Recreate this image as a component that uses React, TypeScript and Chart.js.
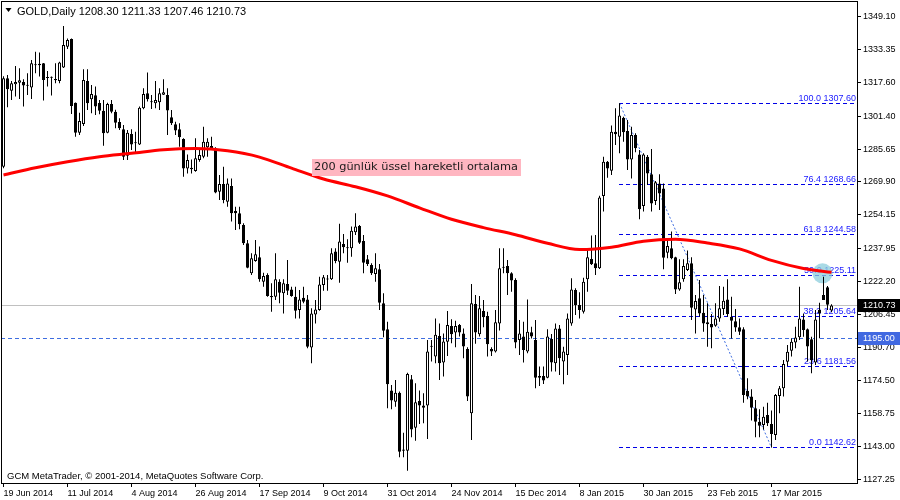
import { useEffect, useRef } from 'react';
import { Chart, registerables } from 'chart.js';

Chart.register(...registerables);

// ---- Daily candles (index 0 = 19 Jun 2014) ----
const OPEN = [
  1277.2, 1319.6, 1313.6, 1316.7, 1317.5, 1317.8, 1316.2, 1315.2, 1325.8, 1326.6,
  1326.8, 1319.9, 1320.0, 1319.2, 1318.3, 1324.7, 1334.7, 1338.4, 1307.9, 1293.5,
  1297.7, 1318.3, 1309.5, 1311.4, 1307.7, 1304.0, 1293.5, 1307.3, 1303.6, 1298.6,
  1295.1, 1282.5, 1292.9, 1288.6, 1287.9, 1305.2, 1312.4, 1308.1, 1307.6, 1308.1,
  1311.7, 1311.6, 1300.9, 1297.5, 1295.1, 1290.5, 1276.4, 1276.7, 1275.1, 1280.4,
  1282.0, 1286.5, 1287.1, 1286.0, 1265.2, 1268.9, 1260.4, 1268.0, 1256.0, 1254.9,
  1249.3, 1240.5, 1226.1, 1232.0, 1233.8, 1222.1, 1225.3, 1215.2, 1214.9, 1222.1,
  1216.5, 1221.0, 1218.4, 1214.9, 1208.5, 1214.4, 1213.6, 1190.6, 1206.4, 1208.5,
  1220.5, 1223.1, 1223.2, 1236.5, 1231.7, 1240.2, 1238.4, 1238.1, 1245.8, 1248.8,
  1241.6, 1232.8, 1230.1, 1225.8, 1228.0, 1211.7, 1199.3, 1169.9, 1164.6, 1168.9,
  1141.7, 1141.1, 1175.3, 1152.1, 1164.9, 1162.7, 1162.7, 1190.9, 1186.2, 1196.1,
  1183.3, 1193.3, 1200.9, 1197.7, 1201.3, 1197.3, 1189.8, 1159.0, 1211.4, 1196.9,
  1208.1, 1205.7, 1189.8, 1188.6, 1202.1, 1228.8, 1229.6, 1226.1, 1222.9, 1194.2,
  1195.8, 1188.6, 1197.8, 1194.2, 1176.9, 1176.9, 1176.1, 1194.6, 1183.0, 1199.7,
  1183.8, 1187.0, 1202.1, 1218.1, 1210.9, 1207.7, 1223.2, 1233.0, 1230.9, 1228.5,
  1263.2, 1279.6, 1275.3, 1294.0, 1291.6, 1300.7, 1294.3, 1280.7, 1292.4, 1283.1,
  1258.4, 1282.0, 1273.6, 1260.8, 1269.2, 1266.8, 1236.0, 1238.1, 1233.8, 1218.4,
  1223.2, 1227.7, 1230.9, 1208.8, 1214.1, 1207.2, 1202.6, 1201.8, 1201.0, 1204.5,
  1209.0, 1213.6, 1205.3, 1203.1, 1200.2, 1199.3, 1169.7, 1167.0, 1161.4, 1155.0,
  1153.4, 1158.2, 1153.9, 1148.6, 1167.3, 1171.0, 1183.7, 1189.0, 1192.9, 1195.4,
  1204.0, 1199.3, 1194.5, 1183.3, 1208.5, 1215.7, 1219.4, 1208.30,
];
const HIGH = [
  1320.5, 1321.2, 1318.3, 1325.5, 1324.4, 1319.1, 1322.0, 1328.3, 1332.3, 1331.9,
  1326.9, 1323.1, 1320.4, 1326.8, 1327.5, 1344.6, 1338.7, 1338.7, 1308.0, 1303.1,
  1323.9, 1323.9, 1316.4, 1315.6, 1309.2, 1309.2, 1307.9, 1309.2, 1304.5, 1300.4,
  1297.2, 1294.8, 1295.1, 1294.0, 1306.0, 1314.8, 1322.4, 1311.6, 1318.3, 1314.8,
  1319.1, 1314.8, 1304.4, 1298.8, 1298.0, 1290.8, 1283.1, 1280.7, 1290.8, 1285.5,
  1296.4, 1290.8, 1291.6, 1286.5, 1273.2, 1277.2, 1271.6, 1271.6, 1258.0, 1258.0,
  1250.1, 1242.1, 1235.7, 1242.1, 1238.9, 1226.4, 1226.1, 1221.3, 1235.7, 1223.2,
  1223.2, 1232.5, 1219.7, 1219.7, 1218.1, 1219.7, 1215.7, 1209.3, 1213.3, 1224.5,
  1225.3, 1225.3, 1238.1, 1238.1, 1249.8, 1244.9, 1242.4, 1248.5, 1254.9, 1249.3,
  1244.5, 1234.9, 1230.9, 1235.7, 1230.6, 1216.5, 1202.9, 1172.6, 1175.0, 1169.4,
  1149.7, 1178.5, 1177.4, 1173.4, 1169.9, 1168.6, 1194.2, 1194.2, 1204.5, 1202.1,
  1197.3, 1208.1, 1204.1, 1203.4, 1201.8, 1199.7, 1190.7, 1221.0, 1215.7, 1215.2,
  1213.3, 1207.7, 1190.7, 1208.5, 1238.1, 1238.1, 1232.5, 1226.6, 1223.7, 1203.7,
  1202.9, 1213.6, 1200.5, 1203.7, 1181.4, 1181.4, 1199.3, 1197.0, 1202.1, 1201.3,
  1190.9, 1206.9, 1223.7, 1218.9, 1217.0, 1224.0, 1237.3, 1244.2, 1244.5, 1263.3,
  1282.0, 1279.9, 1296.9, 1305.2, 1307.6, 1301.2, 1299.6, 1296.4, 1293.2, 1285.2,
  1283.6, 1282.8, 1285.7, 1270.4, 1273.6, 1269.2, 1242.1, 1246.1, 1234.1, 1232.8,
  1232.8, 1237.0, 1233.8, 1215.7, 1222.9, 1215.7, 1211.7, 1206.6, 1211.7, 1220.0,
  1219.7, 1223.2, 1214.9, 1209.0, 1204.5, 1200.2, 1175.8, 1170.5, 1165.4, 1160.9,
  1162.2, 1164.1, 1160.3, 1168.2, 1172.1, 1184.6, 1191.7, 1195.0, 1200.5, 1219.7,
  1206.9, 1199.7, 1195.7, 1208.5, 1212.0, 1224.5, 1220.0, 1211.33,
];
const LOW = [
  1276.5, 1305.7, 1309.2, 1310.8, 1309.7, 1306.0, 1311.6, 1309.7, 1322.0, 1320.4,
  1308.9, 1315.6, 1311.3, 1317.2, 1317.2, 1324.5, 1333.6, 1302.5, 1291.6, 1292.4,
  1296.7, 1304.4, 1302.8, 1302.0, 1302.3, 1287.3, 1293.2, 1302.8, 1295.6, 1294.8,
  1280.4, 1280.4, 1285.2, 1283.6, 1287.6, 1304.7, 1308.4, 1304.9, 1305.2, 1304.4,
  1311.6, 1292.4, 1297.2, 1292.4, 1286.8, 1272.4, 1274.0, 1274.0, 1274.8, 1279.6,
  1281.2, 1282.0, 1285.2, 1264.5, 1261.3, 1259.7, 1258.0, 1250.9, 1246.9, 1247.2,
  1239.7, 1228.5, 1225.3, 1231.7, 1222.1, 1219.7, 1214.9, 1207.7, 1213.3, 1211.7,
  1206.9, 1215.7, 1214.9, 1204.5, 1204.5, 1211.7, 1190.2, 1183.0, 1202.1, 1208.2,
  1217.8, 1217.8, 1222.9, 1230.9, 1221.6, 1235.7, 1231.2, 1234.1, 1244.5, 1240.2,
  1226.1, 1229.6, 1225.3, 1222.1, 1208.5, 1195.4, 1161.4, 1160.9, 1162.2, 1137.9,
  1137.9, 1131.5, 1147.5, 1145.9, 1153.9, 1154.2, 1146.7, 1183.8, 1183.0, 1175.0,
  1176.6, 1186.5, 1192.6, 1190.7, 1195.8, 1185.4, 1164.9, 1146.2, 1192.3, 1195.8,
  1200.2, 1186.2, 1186.5, 1188.1, 1198.7, 1226.1, 1215.7, 1217.3, 1190.2, 1186.9,
  1183.3, 1187.8, 1194.9, 1171.0, 1172.1, 1173.1, 1175.8, 1179.0, 1179.0, 1177.4,
  1172.9, 1177.4, 1201.0, 1206.1, 1204.5, 1206.9, 1217.3, 1230.1, 1225.3, 1228.2,
  1255.7, 1271.9, 1273.2, 1287.6, 1283.6, 1289.2, 1275.6, 1271.6, 1284.1, 1252.0,
  1255.7, 1268.4, 1255.7, 1258.9, 1256.5, 1228.0, 1233.3, 1232.8, 1216.2, 1217.8,
  1222.1, 1227.2, 1203.7, 1197.3, 1205.3, 1198.1, 1190.9, 1190.2, 1200.5, 1202.9,
  1206.1, 1205.3, 1194.9, 1198.1, 1196.5, 1164.1, 1165.7, 1155.5, 1147.5, 1147.5,
  1151.3, 1152.9, 1142.62, 1146.2, 1159.0, 1167.0, 1181.7, 1186.2, 1190.2, 1194.1,
  1195.7, 1183.8, 1178.2, 1182.2, 1195.0, 1213.3, 1208.5, 1207.46,
];
const CLOSE = [
  1319.6, 1314.3, 1317.2, 1317.8, 1318.6, 1316.1, 1316.0, 1326.8, 1326.1, 1325.8,
  1318.8, 1319.7, 1319.8, 1318.6, 1327.2, 1335.5, 1337.9, 1306.3, 1293.5, 1299.1,
  1318.8, 1307.6, 1312.0, 1306.0, 1304.0, 1293.2, 1307.3, 1303.6, 1298.3, 1295.6,
  1282.0, 1293.5, 1287.9, 1288.4, 1305.5, 1312.0, 1309.5, 1308.3, 1309.2, 1312.4,
  1312.9, 1304.1, 1298.0, 1294.5, 1291.3, 1276.4, 1280.4, 1276.0, 1281.2, 1282.8,
  1289.2, 1289.2, 1286.0, 1264.8, 1268.9, 1261.3, 1269.2, 1254.9, 1254.9, 1249.6,
  1240.5, 1228.8, 1233.3, 1235.2, 1223.2, 1224.8, 1215.2, 1214.6, 1223.2, 1216.8,
  1221.3, 1217.8, 1215.2, 1208.2, 1213.6, 1212.5, 1190.9, 1206.9, 1208.8, 1220.8,
  1224.2, 1223.3, 1235.7, 1232.0, 1241.3, 1238.6, 1238.1, 1246.5, 1248.5, 1240.8,
  1231.2, 1230.6, 1226.1, 1228.5, 1212.0, 1198.6, 1172.9, 1165.1, 1168.9, 1140.6,
  1141.1, 1177.9, 1151.3, 1164.3, 1162.7, 1161.7, 1188.6, 1191.0, 1196.6, 1183.0,
  1193.4, 1201.3, 1196.9, 1200.9, 1197.7, 1191.0, 1167.0, 1211.7, 1197.7, 1209.3,
  1205.0, 1192.1, 1188.6, 1202.6, 1228.5, 1229.3, 1226.1, 1222.6, 1192.9, 1197.3,
  1189.4, 1198.1, 1195.8, 1176.1, 1176.1, 1174.7, 1195.8, 1183.3, 1199.7, 1185.4,
  1188.6, 1204.5, 1218.4, 1210.9, 1208.5, 1222.1, 1233.8, 1230.4, 1228.5, 1262.5,
  1279.6, 1276.4, 1294.0, 1292.7, 1301.7, 1293.7, 1280.7, 1292.4, 1286.0, 1256.8,
  1283.1, 1274.0, 1259.6, 1269.7, 1264.4, 1233.6, 1239.2, 1233.3, 1218.4, 1221.8,
  1229.6, 1230.9, 1209.6, 1212.8, 1206.9, 1202.1, 1201.7, 1200.1, 1204.5, 1209.3,
  1213.0, 1206.6, 1203.4, 1200.1, 1198.1, 1167.8, 1167.0, 1161.7, 1155.0, 1153.1,
  1157.4, 1154.2, 1149.1, 1167.8, 1171.0, 1182.6, 1188.5, 1193.3, 1195.3, 1204.5,
  1198.9, 1191.0, 1184.6, 1204.0, 1206.9, 1213.3, 1211.0, 1210.73,
];

// ---- 200-period EMA, read at sampled bars ----
const EMA_INDEX = [0, 8, 16, 24, 32, 40, 48, 56, 64, 72, 80, 88, 96, 104, 112, 120, 128, 136, 144, 152, 160, 168, 176, 184, 192, 200, 207];
const EMA_VALUES = [
  1273.2, 1276.7, 1279.6, 1282.0, 1283.6, 1285.3, 1285.9, 1284.8, 1281.8, 1276.5,
  1271.3, 1267.6, 1263.2, 1257.5, 1252.0, 1248.0, 1244.6, 1240.5, 1237.5, 1238.6,
  1241.5, 1242.4, 1240.6, 1237.8, 1232.3, 1228.4, 1226.6,
];

// ---- Axes ----
const X_TICK_INDEX = [0, 16, 32, 48, 64, 80, 96, 112, 128, 144, 160, 176, 192];
const X_TICK_LABELS = [
  '19 Jun 2014', '11 Jul 2014', '4 Aug 2014', '26 Aug 2014', '17 Sep 2014', '9 Oct 2014',
  '31 Oct 2014', '24 Nov 2014', '15 Dec 2014', '8 Jan 2015', '30 Jan 2015', '23 Feb 2015', '17 Mar 2015',
];
const Y_TICKS = [1349.10, 1333.35, 1317.60, 1301.40, 1285.65, 1269.90, 1254.15, 1237.95, 1222.20, 1206.45, 1190.70, 1174.50, 1158.75, 1143.00, 1127.25];
const X_RANGE = [-0.625, 213.375];
const Y_RANGE = [1125.60, 1356.625];

// ---- Fibonacci retracement ----
const FIB_RATIOS = ['100.0', '76.4', '61.8', '50.0', '38.2', '23.6', '0.0'];
const FIB_LEVELS = [1307.60, 1268.66, 1244.58, 1225.11, 1205.64, 1181.56, 1142.62];
const FIB_ANCHOR_INDEX = [154, 192];

// ---- Other objects / texts ----
const ALERT_LEVEL = 1195.00;
const LAST_PRICE = 1210.73;
const HEADER = 'GOLD,Daily 1208.30 1211.33 1207.46 1210.73';
const FOOTER = 'GCM MetaTrader, \u00A9 2001-2014, MetaQuotes Software Corp.';
const NOTE_TEXT = '200 günlük üssel hareketli ortalama';
const NOTE_ANCHOR = { x: 77.1, y: 1277.3 };
const MARKER_ANCHOR = { x: 204.75, y: 1226.1 };

const FONT = '"Liberation Sans", Arial, sans-serif';

const overlayPlugin = {
  id: 'mtOverlay',
  beforeDatasetsDraw(chart: any) {
    const { ctx, chartArea: a, scales } = chart;
    const xs = scales.x;
    const ys = scales.y;
    const row = (p: number) => Math.floor(ys.getPixelForValue(p)) + 0.5;
    ctx.save();
    ctx.beginPath();
    ctx.rect(a.left, a.top, a.right - a.left, a.bottom - a.top);
    ctx.clip();
    ctx.lineWidth = 1;
    const hline = (p: number, x0: number, x1: number, color: string, dash: number[]) => {
      ctx.strokeStyle = color;
      ctx.setLineDash(dash);
      ctx.beginPath();
      ctx.moveTo(x0, row(p));
      ctx.lineTo(x1, row(p));
      ctx.stroke();
    };
    hline(LAST_PRICE, a.left, a.right, '#c0c0c0', []);
    hline(ALERT_LEVEL, a.left, a.right, '#3e6de0', [4, 3]);
    const fx0 = Math.floor(xs.getPixelForValue(FIB_ANCHOR_INDEX[0]));
    FIB_LEVELS.forEach((l) => hline(l, fx0, a.right, '#0000e6', [4, 3]));
    ctx.strokeStyle = '#3e6de0';
    ctx.setLineDash([2, 2]);
    ctx.beginPath();
    ctx.moveTo(xs.getPixelForValue(FIB_ANCHOR_INDEX[0]), ys.getPixelForValue(FIB_LEVELS[0]));
    ctx.lineTo(xs.getPixelForValue(FIB_ANCHOR_INDEX[1]), ys.getPixelForValue(FIB_LEVELS[FIB_LEVELS.length - 1]));
    ctx.stroke();
    ctx.setLineDash([]);
    ctx.font = `9px ${FONT}`;
    ctx.fillStyle = '#1a1aff';
    ctx.textAlign = 'right';
    ctx.textBaseline = 'alphabetic';
    FIB_LEVELS.forEach((l, k) => {
      ctx.fillText(`${FIB_RATIOS[k]} ${l.toFixed(2)}`, a.right - 1, row(l) - 2.5);
    });
    ctx.restore();
  },
  afterDatasetsDraw(chart: any) {
    const { ctx, scales } = chart;
    const nx = scales.x.getPixelForValue(NOTE_ANCHOR.x);
    const ny = scales.y.getPixelForValue(NOTE_ANCHOR.y);
    ctx.save();
    ctx.font = '10px "DejaVu Sans"';
    const w10 = ctx.measureText(NOTE_TEXT).width;
    const size = (10 * 204) / w10;
    ctx.font = `${size.toFixed(2)}px "DejaVu Sans"`;
    const w = ctx.measureText(NOTE_TEXT).width;
    ctx.fillStyle = '#ffb6c1';
    ctx.fillRect(Math.round(nx), Math.round(ny) - 8, Math.round(w) + 5, 17);
    ctx.fillStyle = '#1a1a1a';
    ctx.textAlign = 'left';
    ctx.textBaseline = 'middle';
    ctx.fillText(NOTE_TEXT, Math.round(nx) + 2, Math.round(ny) + 0.5);
    ctx.restore();
  },
  afterDraw(chart: any) {
    const { ctx, chartArea: a, scales } = chart;
    ctx.save();
    ctx.strokeStyle = '#000';
    ctx.lineWidth = 1;
    ctx.strokeRect(a.left + 0.5, a.top + 0.5, a.right - a.left, a.bottom - a.top);

    // header
    ctx.fillStyle = '#000';
    ctx.beginPath();
    ctx.moveTo(5.5, 8);
    ctx.lineTo(11.5, 8);
    ctx.lineTo(8.5, 12);
    ctx.closePath();
    ctx.fill();
    ctx.font = `11px ${FONT}`;
    ctx.textAlign = 'left';
    ctx.textBaseline = 'alphabetic';
    ctx.fillText(HEADER, 17, 15);

    // footer
    ctx.font = `9.5px ${FONT}`;
    ctx.fillText(FOOTER, 7, 478.5);

    // price tags on the axis
    const tag = (price: number, bg: string) => {
      const py = Math.floor(scales.y.getPixelForValue(price));
      ctx.fillStyle = bg;
      ctx.fillRect(a.right + 1, py - 6, 43, 13);
      ctx.fillStyle = '#fff';
      ctx.font = `9px ${FONT}`;
      ctx.textBaseline = 'middle';
      ctx.fillText(price.toFixed(2), a.right + 6, py + 0.5);
    };
    tag(ALERT_LEVEL, '#4169e1');
    tag(LAST_PRICE, '#000000');
    ctx.restore();
  },
};

export default function App() {
  const ref = useRef<HTMLCanvasElement>(null);
  useEffect(() => {
    const canvas = ref.current;
    if (!canvas) return;
    const bodyData = OPEN.map((o, i) => ({ x: i, y: [Math.min(o, CLOSE[i]), Math.max(o, CLOSE[i])] }));
    const wickData = OPEN.map((_, i) => ({ x: i, y: [LOW[i], HIGH[i]] }));
    const bodyColors = OPEN.map((o, i) => (CLOSE[i] >= o ? '#ffffff' : '#000000'));
    const chart = new Chart(canvas, {
      type: 'bar',
      data: {
        datasets: [
          {
            type: 'line',
            label: 'EMA 200',
            data: EMA_INDEX.map((x, k) => ({ x, y: EMA_VALUES[k] })),
            borderColor: '#ff0000',
            borderWidth: 3,
            pointRadius: 0,
            cubicInterpolationMode: 'monotone',
            order: 0,
          } as any,
          {
            type: 'bar',
            label: 'body',
            data: bodyData,
            backgroundColor: bodyColors,
            borderColor: '#000000',
            borderWidth: 1,
            borderSkipped: false,
            barThickness: 3,
            maxBarThickness: 3,
            grouped: false,
            minBarLength: 1,
            inflateAmount: 0,
            order: 1,
          } as any,
          {
            type: 'bar',
            label: 'wick',
            data: wickData,
            backgroundColor: '#000000',
            borderWidth: 0,
            barThickness: 1,
            maxBarThickness: 1,
            grouped: false,
            inflateAmount: 0,
            order: 2,
          } as any,
          {
            type: 'line',
            label: 'marker',
            data: [{ x: MARKER_ANCHOR.x, y: MARKER_ANCHOR.y }],
            showLine: false,
            pointRadius: 10,
            pointBackgroundColor: 'rgba(140,205,220,0.75)',
            pointBorderWidth: 0,
            order: 3,
          } as any,
        ],
      },
      options: {
        responsive: false,
        maintainAspectRatio: false,
        animation: false,
        devicePixelRatio: 1,
        events: [],
        layout: { autoPadding: false, padding: { left: 1, top: 1, right: 0, bottom: 0 } },
        plugins: { legend: { display: false }, tooltip: { enabled: false } },
        scales: {
          x: {
            type: 'linear',
            bounds: 'data',
            min: X_RANGE[0],
            max: X_RANGE[1],
            offset: false,
            grid: { display: true, drawOnChartArea: false, drawTicks: true, tickLength: 4, color: '#000', offset: false },
            border: { display: true, color: '#000' },
            ticks: {
              autoSkip: false,
              maxRotation: 0,
              minRotation: 0,
              align: 'start',
              padding: 1,
              color: '#000',
              font: { family: FONT, size: 9 },
              callback: (_v: any, i: number) => X_TICK_LABELS[i],
            },
            afterBuildTicks: (s: any) => {
              s.ticks = X_TICK_INDEX.map((v) => ({ value: v }));
            },
            afterFit: (s: any) => {
              s.height = 17;
              s.paddingLeft = 0;
              s.paddingRight = 0;
            },
          } as any,
          y: {
            type: 'linear',
            position: 'right',
            bounds: 'data',
            min: Y_RANGE[0],
            max: Y_RANGE[1],
            grid: { display: true, drawOnChartArea: false, drawTicks: true, tickLength: 4, color: '#000' },
            border: { display: true, color: '#000' },
            ticks: {
              autoSkip: false,
              padding: 2,
              color: '#000',
              font: { family: FONT, size: 9 },
              callback: (v: any) => Number(v).toFixed(2),
            },
            afterBuildTicks: (s: any) => {
              s.ticks = Y_TICKS.map((v) => ({ value: v }));
            },
            afterFit: (s: any) => {
              s.width = 43;
              s.paddingTop = 0;
              s.paddingBottom = 0;
            },
          } as any,
        },
      } as any,
      plugins: [overlayPlugin],
    });
    return () => chart.destroy();
  }, []);
  return (
    <div style={{ position: 'absolute', left: 0, top: 0, width: 900, height: 500, background: '#fff' }}>
      <canvas ref={ref} width={900} height={500} style={{ display: 'block' }} />
    </div>
  );
}
